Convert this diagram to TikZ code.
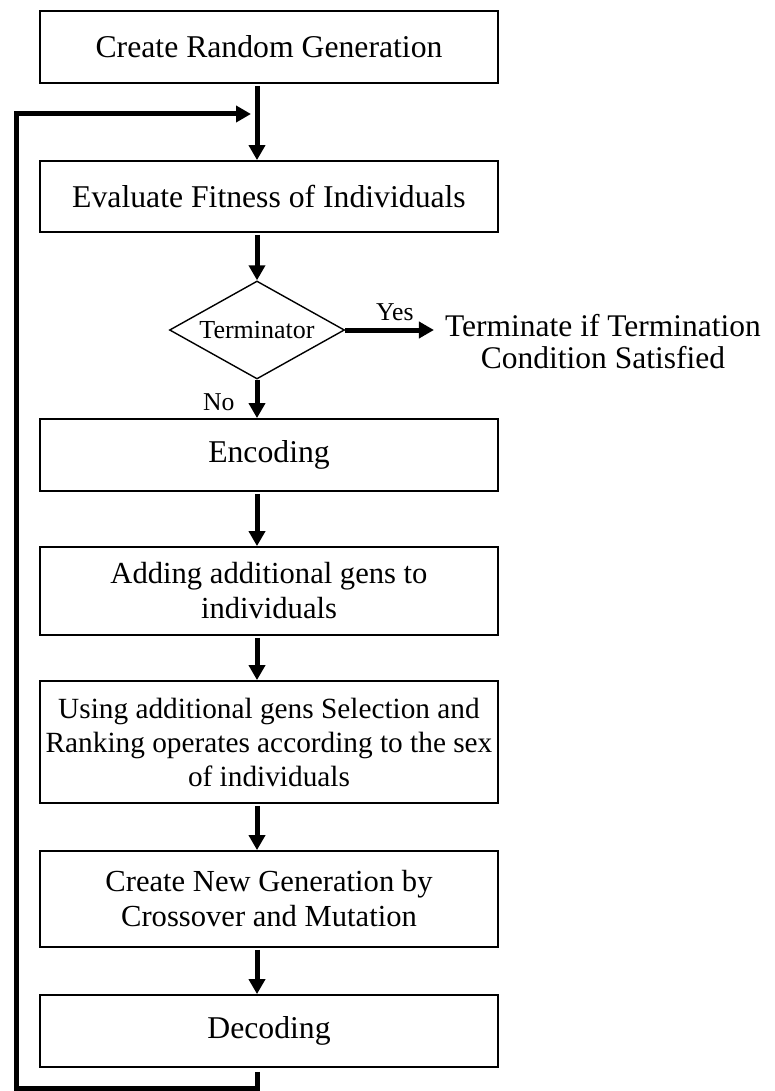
\documentclass[tikz,border=0pt]{standalone}
\usepackage{fontspec}
\setmainfont{Liberation Serif}
\usetikzlibrary{arrows.meta,shapes.geometric}

\tikzset{
  stepbox/.style={draw, line width=1.8pt, rectangle, minimum width=458pt,
    inner sep=0pt, align=center},
  fbig/.style={font=\fontsize{31.7}{35}\selectfont},
  fmid/.style={font=\fontsize{30.6}{35}\selectfont},
  fsmall/.style={font=\fontsize{29.3}{34}\selectfont},
  decision/.style={draw, line width=1.4pt, diamond, aspect=1.786,
    minimum width=175pt, minimum height=98pt, inner sep=0pt,
    font=\fontsize{26}{30}\selectfont},
  flow/.style={line width=5pt, line join=miter,
    -{Triangle[length=15pt,width=16pt]}},
  plainflow/.style={line width=5pt, line join=miter},
  lbl/.style={inner sep=0pt, font=\fontsize{25.7}{30}\selectfont}
}

\begin{document}
\begin{tikzpicture}[x=1pt, y=-1pt]
  \useasboundingbox (0,0) rectangle (774,1091);

  % vertical axis of the connectors and corners of the feedback loop
  \coordinate (ax) at (257,0);
  \coordinate (fbBL) at (16,1088);
  \coordinate (fbTL) at (16,114);
  \coordinate (fbEnd) at (251,114);

  % process steps
  \node[stepbox, fbig, minimum height=72pt]  (create) at (269,47)    {Create Random Generation};
  \node[stepbox, fbig, minimum height=71pt]  (eval)   at (269,196.5) {Evaluate Fitness of Individuals};
  \node[decision] (term) at (257,330) {Terminator};
  \node[stepbox, fbig, minimum height=72pt]  (enc)    at (269,455)   {Encoding};
  \node[stepbox, fmid, minimum height=88pt]  (add)    at (269,591)   {Adding additional gens to\\individuals};
  \node[stepbox, fsmall, minimum height=122pt] (sel)  at (269,742)   {Using additional gens Selection and\\Ranking operates according to the sex\\of individuals};
  \node[stepbox, fmid, minimum height=96pt]  (cross)  at (269,899)   {Create New Generation by\\Crossover and Mutation};
  \node[stepbox, fbig, minimum height=72pt]  (dec)    at (269,1031)  {Decoding};

  % exit text
  \node[align=center, inner xsep=11pt, inner ysep=0pt,
        font=\fontsize{31.5}{32}\selectfont] (done) at (603,342)
        {Terminate if Termination\\Condition Satisfied};

  % connectors
  \draw[flow, shorten <=2pt] (create.south -| ax) -- (eval.north -| ax);
  \draw[flow, shorten <=2pt] (eval.south -| ax) -- (term.north);
  \draw[flow] (term.east) -- (term.east -| done.west)
      node[lbl, pos=0.56, above=7pt] (yes) {Yes};
  \draw[flow] (term.south) -- (enc.north -| ax)
      node[lbl, pos=0.58, left=20pt] (no) {No};
  \draw[flow, shorten <=2pt] (enc.south -| ax) -- (add.north -| ax);
  \draw[flow, shorten <=2pt] (add.south -| ax) -- (sel.north -| ax);
  \draw[flow, shorten <=2pt] (sel.south -| ax) -- (cross.north -| ax);
  \draw[flow, shorten <=2pt] (cross.south -| ax) -- (dec.north -| ax);

  % feedback loop back to the fitness evaluation
  \draw[flow, shorten <=4pt] (dec.south -| ax) -- (ax |- fbBL) -- (fbBL) -- (fbTL) -- (fbEnd);
\end{tikzpicture}
\end{document}
